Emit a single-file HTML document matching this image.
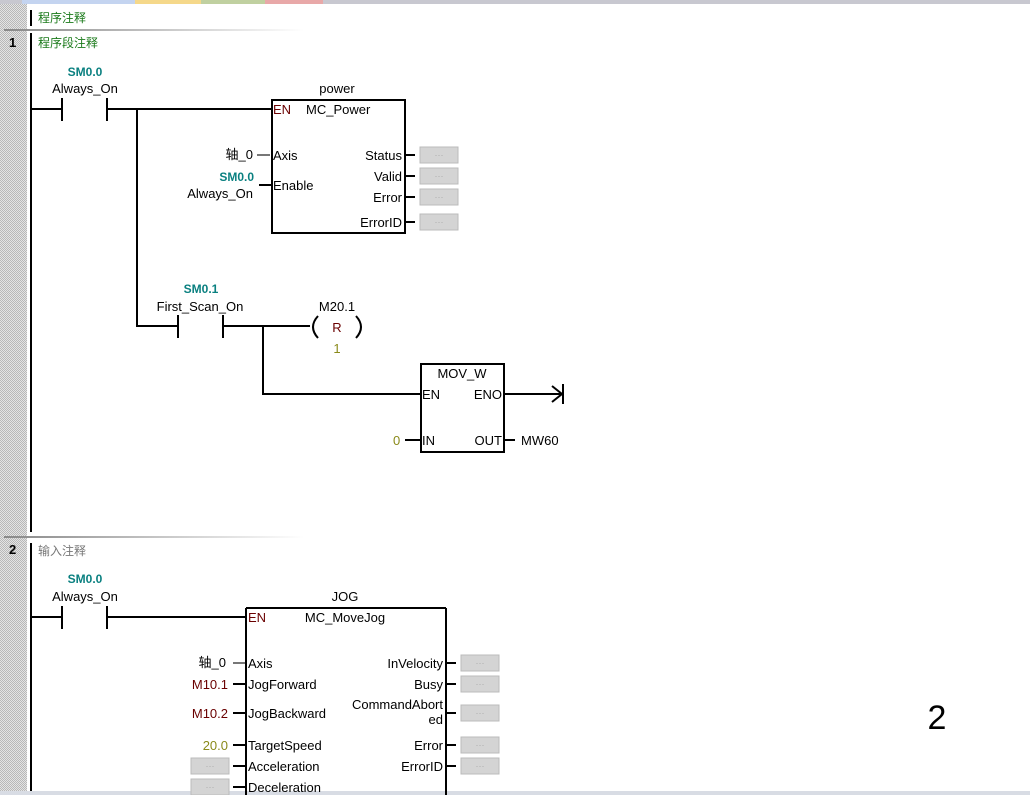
<!DOCTYPE html>
<html><head><meta charset="utf-8"><style>
html,body{margin:0;padding:0;background:#fff;width:1030px;height:795px;overflow:hidden}
svg{display:block}
text{font-family:"Liberation Sans","Noto Sans CJK SC",sans-serif;font-size:13px;fill:#000}
.t{fill:#0a8080;font-weight:bold;font-size:12px}
.g{fill:#1a7a1a;font-size:12px}
.o{fill:#8a8a1a}
.m{fill:#6a0000}
.d{fill:#aaa;font-size:9px}
</style></head><body>
<svg width="1030" height="795" viewBox="0 0 1030 795">
<defs>
<pattern id="chk" width="2" height="2" patternUnits="userSpaceOnUse"><rect width="2" height="2" fill="#e4e4e4"/><rect width="1" height="1" fill="#b8b8b8"/><rect x="1" y="1" width="1" height="1" fill="#b8b8b8"/></pattern>
<linearGradient id="sep" x1="0" x2="1"><stop offset="0" stop-color="#888"/><stop offset="1" stop-color="#fff"/></linearGradient>
</defs>
<rect x="0" y="0" width="1030" height="4" fill="#c8c8d0"/>
<rect x="22" y="0" width="113" height="4" fill="#c4d4f0"/>
<rect x="135" y="0" width="66" height="4" fill="#f5d88a"/>
<rect x="201" y="0" width="64" height="4" fill="#c0d0a0"/>
<rect x="265" y="0" width="58" height="4" fill="#e8a8a8"/>
<rect x="0" y="4" width="27" height="787" fill="url(#chk)"/>
<rect x="0" y="791" width="1030" height="4" fill="#d8dce4"/>
<rect x="30" y="10" width="2" height="16" fill="#000"/>
<text x="38" y="22" class="g">程序注释</text>
<rect x="4" y="29" width="300" height="2" fill="url(#sep)"/>
<rect x="4" y="536" width="300" height="2" fill="url(#sep)"/>
<text x="9" y="47" font-weight="bold">1</text>
<text x="38" y="47" class="g">程序段注释</text>
<text x="9" y="554" font-weight="bold">2</text>
<text x="38" y="555" class="g" style="fill:#777">输入注释</text>
<rect x="30" y="33" width="2" height="499" fill="#000"/>
<rect x="30" y="543" width="2" height="248" fill="#000"/>
<g stroke="#000" stroke-width="2" fill="none">
<path d="M31 109H62M107 109H271M62 98V121M107 98V121M137 109V326H178M178 315V338M223 315V338M223 326H310M263 326V394H420"/>
<rect x="272" y="100" width="133" height="133"/>
<path d="M259 185H271M405 155H415M405 176H415M405 197H415M405 222H415"/>
<path d="M318 316Q308 327 318 338M356 316Q366 327 356 338"/>
<rect x="421" y="364" width="83" height="88"/>
<path d="M504 394H562M552 386L562 394L552 402M563 384V404M405 440H420M504 440H515"/>
<path d="M31 617H62M107 617H245M62 606V629M107 606V629"/>
<path d="M246 608V795M446 608V795M246 608H446"/>
<path d="M233 684H245M233 713H245M233 745H245M233 766H245M233 787H245M446 663H456M446 684H456M446 713H456M446 745H456M446 766H456"/>
</g>
<g stroke="#777" stroke-width="2"><path d="M257 155H270M233 663H245"/></g>
<g fill="#d4d4d4" stroke="#bbb">
<rect x="420" y="147" width="38" height="16"/><rect x="420" y="168" width="38" height="16"/><rect x="420" y="189" width="38" height="16"/><rect x="420" y="214" width="38" height="16"/>
<rect x="461" y="655" width="38" height="16"/><rect x="461" y="676" width="38" height="16"/><rect x="461" y="705" width="38" height="16"/><rect x="461" y="737" width="38" height="16"/><rect x="461" y="758" width="38" height="16"/>
<rect x="191" y="758" width="38" height="16"/><rect x="191" y="779" width="38" height="16"/>
</g>
<g class="d" text-anchor="middle">
<text x="439" y="158" class="d">···</text><text x="439" y="179" class="d">···</text><text x="439" y="200" class="d">···</text><text x="439" y="225" class="d">···</text>
<text x="480" y="666" class="d">···</text><text x="480" y="687" class="d">···</text><text x="480" y="716" class="d">···</text><text x="480" y="748" class="d">···</text><text x="480" y="769" class="d">···</text>
<text x="210" y="769" class="d">···</text><text x="210" y="790" class="d">···</text>
</g>
<text x="85" y="76" class="t" text-anchor="middle">SM0.0</text>
<text x="85" y="93" text-anchor="middle">Always_On</text>
<text x="337" y="93" text-anchor="middle">power</text>
<text x="273" y="114" class="m">EN</text>
<text x="306" y="114">MC_Power</text>
<text x="253" y="159" text-anchor="end">轴_0</text>
<text x="273" y="160">Axis</text>
<text x="254" y="181" class="t" text-anchor="end">SM0.0</text>
<text x="253" y="198" text-anchor="end">Always_On</text>
<text x="273" y="190">Enable</text>
<text x="402" y="160" text-anchor="end">Status</text>
<text x="402" y="181" text-anchor="end">Valid</text>
<text x="402" y="202" text-anchor="end">Error</text>
<text x="402" y="227" text-anchor="end">ErrorID</text>
<text x="201" y="293" class="t" text-anchor="middle">SM0.1</text>
<text x="200" y="311" text-anchor="middle">First_Scan_On</text>
<text x="337" y="311" text-anchor="middle">M20.1</text>
<text x="337" y="332" text-anchor="middle" class="m">R</text>
<text x="337" y="353" text-anchor="middle" class="o">1</text>
<text x="462" y="378" text-anchor="middle">MOV_W</text>
<text x="422" y="399">EN</text>
<text x="502" y="399" text-anchor="end">ENO</text>
<text x="393" y="445" class="o">0</text>
<text x="422" y="445">IN</text>
<text x="502" y="445" text-anchor="end">OUT</text>
<text x="521" y="445">MW60</text>
<text x="85" y="583" class="t" text-anchor="middle">SM0.0</text>
<text x="85" y="601" text-anchor="middle">Always_On</text>
<text x="345" y="601" text-anchor="middle">JOG</text>
<text x="248" y="622" class="m">EN</text>
<text x="345" y="622" text-anchor="middle">MC_MoveJog</text>
<text x="226" y="667" text-anchor="end">轴_0</text>
<text x="228" y="689" text-anchor="end" class="m">M10.1</text>
<text x="228" y="718" text-anchor="end" class="m">M10.2</text>
<text x="228" y="750" text-anchor="end" class="o">20.0</text>
<text x="248" y="668">Axis</text>
<text x="248" y="689">JogForward</text>
<text x="248" y="718">JogBackward</text>
<text x="248" y="750">TargetSpeed</text>
<text x="248" y="771">Acceleration</text>
<text x="248" y="792">Deceleration</text>
<text x="443" y="668" text-anchor="end">InVelocity</text>
<text x="443" y="689" text-anchor="end">Busy</text>
<text x="443" y="709" text-anchor="end">CommandAbort</text>
<text x="443" y="724" text-anchor="end">ed</text>
<text x="443" y="750" text-anchor="end">Error</text>
<text x="443" y="771" text-anchor="end">ErrorID</text>
<text x="937" y="729" text-anchor="middle" style="font-size:34px">2</text>
</svg>
</body></html>
